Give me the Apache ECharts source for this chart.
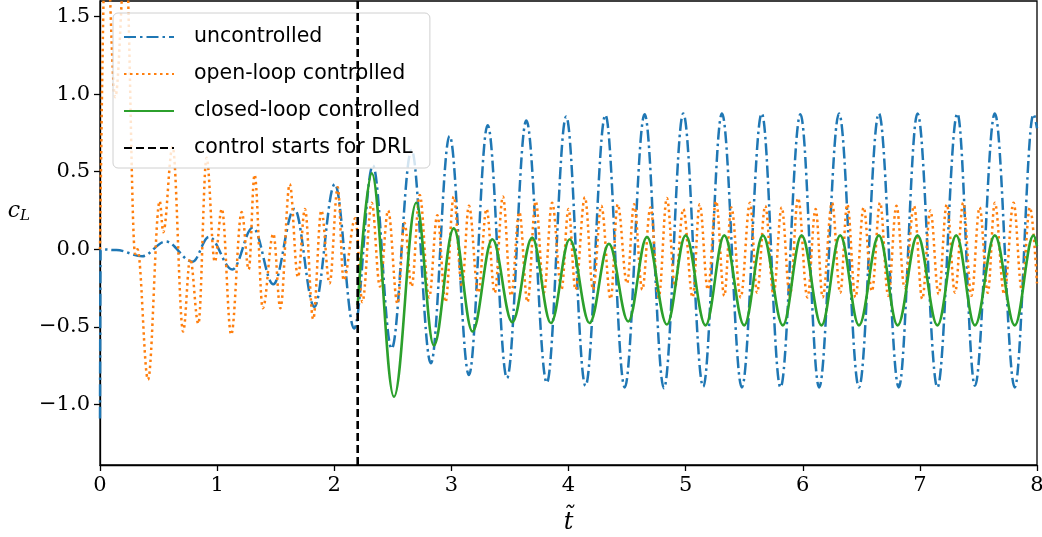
<!DOCTYPE html>
<html>
<head>
<meta charset="utf-8">
<script src="https://cdn.jsdelivr.net/npm/echarts@6/dist/echarts.min.js"></script>
<style>
  html, body { margin: 0; padding: 0; background: #fff; }
  #chart { width: 1042px; height: 537px; }
</style>
</head>
<body>
<div id="chart"></div>
<script>
// Lift coefficient c_L over dimensionless time; each curve is given by its turning points.
const tUncontrolled = [0, 0.005, 0.14, 0.36, 0.56, 0.79, 0.93, 1.13, 1.305, 1.48, 1.66, 1.83, 2.005, 2.17,
  2.33, 2.49, 2.66, 2.825, 2.985, 3.15, 3.31, 3.475, 3.64, 3.815, 3.98, 4.145, 4.315, 4.48, 4.65, 4.815,
  4.98, 5.15, 5.31, 5.48, 5.65, 5.81, 5.98, 6.14, 6.31, 6.48, 6.65, 6.82, 6.98, 7.15, 7.32, 7.47, 7.64,
  7.81, 7.97, 8.0];
const cUncontrolled = [-1.09, 0.0, -0.005, -0.045, 0.05, -0.08, 0.08, -0.13, 0.14, -0.225, 0.26, -0.37, 0.42, -0.51,
  0.54, -0.64, 0.64, -0.735, 0.73, -0.81, 0.80, -0.83, 0.83, -0.86, 0.855, -0.88, 0.865, -0.89, 0.87, -0.895,
  0.875, -0.885, 0.875, -0.89, 0.875, -0.89, 0.87, -0.89, 0.875, -0.89, 0.875, -0.89, 0.875, -0.89, 0.875, -0.88, 0.875,
  -0.89, 0.87, 0.78];

const tOpenLoop = [0, 0.05, 0.13, 0.22, 0.30, 0.32, 0.41, 0.51, 0.54, 0.62, 0.71, 0.77, 0.84, 0.91, 0.98,
  1.04, 1.12, 1.21, 1.27, 1.32, 1.39, 1.48, 1.54, 1.62, 1.69, 1.75, 1.82, 1.89, 1.96, 2.03, 2.08,
  2.18, 2.24, 2.32, 2.39, 2.46, 2.54, 2.60, 2.66, 2.73, 2.81, 2.88, 2.95, 3.02, 3.09, 3.15, 3.23,
  3.30, 3.37, 3.44, 3.51, 3.58, 3.65, 3.72, 3.79, 3.86, 3.94, 4.00, 4.06, 4.14, 4.21, 4.28, 4.36,
  4.42, 4.50, 4.56, 4.63, 4.70, 4.77, 4.84, 4.91, 4.98, 5.06, 5.12, 5.19, 5.26, 5.33, 5.39, 5.47,
  5.55, 5.61, 5.68, 5.75, 5.82, 5.89, 5.96, 6.04, 6.11, 6.17, 6.25, 6.32, 6.38, 6.45, 6.52, 6.59,
  6.66, 6.73, 6.80, 6.87, 6.95, 7.02, 7.09, 7.16, 7.23, 7.30, 7.37, 7.44, 7.51, 7.58, 7.64, 7.72,
  7.80, 7.87, 7.94, 8.0];
const cOpenLoop = [0.0, 2.1, 0.98, 1.9, -0.03, 0.0, -0.84, 0.31, 0.11, 0.66, -0.53, -0.06, -0.48, 0.59, -0.08,
  0.26, -0.55, 0.24, -0.13, 0.48, -0.38, 0.10, -0.38, 0.42, -0.18, 0.26, -0.45, 0.25, -0.22, 0.40, -0.20,
  0.20, -0.34, 0.30, -0.24, 0.25, -0.35, 0.17, -0.24, 0.35, -0.31, 0.22, -0.34, 0.34, -0.24, 0.28, -0.28,
  0.26, -0.28, 0.34, -0.30, 0.24, -0.34, 0.31, -0.28, 0.30, -0.26, 0.26, -0.26, 0.335, -0.26, 0.28, -0.32,
  0.29, -0.22, 0.29, -0.26, 0.27, -0.31, 0.33, -0.24, 0.26, -0.31, 0.29, -0.26, 0.31, -0.30, 0.27, -0.31,
  0.30, -0.28, 0.28, -0.29, 0.27, -0.30, 0.33, -0.31, 0.26, -0.31, 0.30, -0.28, 0.29, -0.31, 0.27, -0.27,
  0.30, -0.30, 0.28, -0.25, 0.28, -0.32, 0.25, -0.29, 0.29, -0.28, 0.30, -0.30, 0.27, -0.28, 0.30, -0.29,
  0.30, -0.26, 0.27, -0.22];

const tClosedLoop = [2.20, 2.32, 2.51, 2.70, 2.85, 3.02, 3.18, 3.35, 3.52, 3.69, 3.85, 4.01, 4.18, 4.345,
  4.51, 4.67, 4.84, 5.00, 5.17, 5.33, 5.50, 5.66, 5.83, 5.99, 6.16, 6.32, 6.48, 6.65, 6.81, 6.98,
  7.15, 7.31, 7.47, 7.64, 7.81, 7.97, 8.0];
const cClosedLoop = [-0.36, 0.49, -0.95, 0.30, -0.62, 0.135, -0.53, 0.065, -0.47, 0.075, -0.475, 0.065, -0.475, 0.035,
  -0.465, 0.08, -0.485, 0.09, -0.49, 0.09, -0.49, 0.09, -0.49, 0.09, -0.49, 0.09, -0.49, 0.09, -0.49, 0.09,
  -0.49, 0.09, -0.49, 0.09, -0.49, 0.09, 0.02];

// Time at which the DRL controller is switched on
const controlStart = 2.2;

const seriesNames = ['uncontrolled', 'open-loop controlled', 'closed-loop controlled', 'control starts for DRL'];
const xTicks = [0, 1, 2, 3, 4, 5, 6, 7, 8];
const yTicks = [-1.0, -0.5, 0.0, 0.5, 1.0, 1.5];
const xRange = [0, 8];
const yRange = [-1.39, 1.60];

const pairs = (ts, vs) => ts.map((t, i) => [t, vs[i]]);
const tickFont = { fontFamily: 'DejaVu Serif', fontSize: 21, color: '#000' };
const fmtY = v => (v < 0 ? '\u2212' : '') + Math.abs(v).toFixed(1);
const curveSmooth = 0.37;

const chart = echarts.init(document.getElementById('chart'), null, { renderer: 'canvas' });
chart.setOption({
  animation: false,
  backgroundColor: '#fff',
  grid: {
    left: 100, right: 5, top: 1, bottom: 72,
    containLabel: false, outerBoundsMode: 'none',
    show: true, borderColor: '#000', borderWidth: 1.3, backgroundColor: 'transparent'
  },
  legend: {
    orient: 'vertical', left: 113, top: 13,
    padding: [13, 10, 9, 10],
    itemWidth: 50, itemHeight: 14, itemGap: 15,
    backgroundColor: 'rgba(255,255,255,0.8)',
    borderColor: '#d0d0d0', borderWidth: 1, borderRadius: 5,
    itemStyle: { opacity: 0 },
    textStyle: { fontFamily: 'DejaVu Sans', fontSize: 20.5, color: '#000', lineHeight: 22, padding: [0, 0, 0, 15] },
    data: seriesNames
  },
  xAxis: {
    type: 'value', min: xRange[0], max: xRange[1], interval: 1,
    splitLine: { show: false },
    axisLine: { show: true, onZero: false, lineStyle: { color: '#000', width: 1.3 } },
    axisTick: { show: true, length: 6, lineStyle: { color: '#000', width: 1.3 }, customValues: xTicks },
    axisLabel: Object.assign({ margin: 10, customValues: xTicks, formatter: v => String(v) }, tickFont),
    name: 't\u0303', nameLocation: 'middle', nameGap: 46,
    nameTextStyle: { fontFamily: 'DejaVu Serif', fontStyle: 'italic', fontSize: 24, color: '#000' }
  },
  yAxis: {
    type: 'value', min: yRange[0], max: yRange[1],
    splitLine: { show: false },
    axisLine: { show: true, onZero: false, lineStyle: { color: '#000', width: 1.3 } },
    axisTick: { show: true, length: 6, lineStyle: { color: '#000', width: 1.3 }, customValues: yTicks },
    axisLabel: Object.assign({ margin: 10, customValues: yTicks, formatter: fmtY }, tickFont),
    name: '{c|c}{s|L}', nameLocation: 'middle', nameGap: 70, nameRotate: 0,
    nameTextStyle: {
      padding: [0, 0, 44, 0],
      rich: {
        c: { fontFamily: 'DejaVu Serif', fontStyle: 'italic', fontSize: 22, color: '#000' },
        s: { fontFamily: 'DejaVu Serif', fontStyle: 'italic', fontSize: 15, color: '#000', padding: [10, 0, 0, 0] }
      }
    }
  },
  series: [
    {
      name: seriesNames[0], type: 'line', data: pairs(tUncontrolled, cUncontrolled),
      showSymbol: false, symbol: 'none', smooth: curveSmooth, smoothMonotone: 'x',
      lineStyle: { color: '#1f77b4', width: 2.5, type: [12, 4, 2.5, 4] },
      itemStyle: { color: '#1f77b4' }, z: 2
    },
    {
      name: seriesNames[1], type: 'line', data: pairs(tOpenLoop, cOpenLoop),
      showSymbol: false, symbol: 'none', smooth: curveSmooth, smoothMonotone: 'x',
      lineStyle: { color: '#ff7f0e', width: 2.5, type: [2.5, 3.5] },
      itemStyle: { color: '#ff7f0e' }, z: 3
    },
    {
      name: seriesNames[2], type: 'line', data: pairs(tClosedLoop, cClosedLoop),
      showSymbol: false, symbol: 'none', smooth: curveSmooth, smoothMonotone: 'x',
      lineStyle: { color: '#2ca02c', width: 2.6, type: 'solid' },
      itemStyle: { color: '#2ca02c' }, z: 4
    },
    {
      name: seriesNames[3], type: 'line', data: [[controlStart, yRange[0]], [controlStart, yRange[1]]],
      showSymbol: false, symbol: 'none',
      lineStyle: { color: '#000', width: 2.6, type: [8, 4] },
      itemStyle: { color: '#000' }, z: 5
    }
  ]
});
</script>
</body>
</html>
